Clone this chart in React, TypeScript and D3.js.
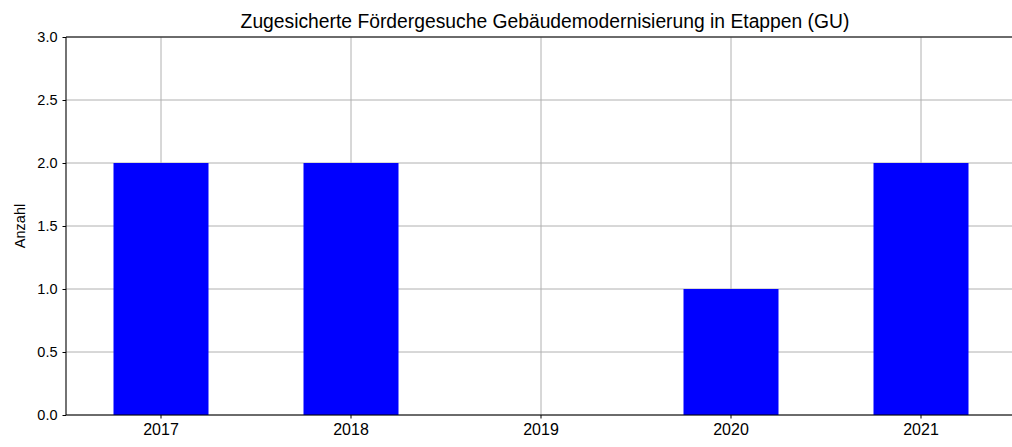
import { useRef, useEffect } from 'react';
import * as d3 from 'd3';

const YEARS = ['2017', '2018', '2019', '2020', '2021'];
const COUNTS = [2, 2, 0, 1, 2];
const Y_TICKS = [0, 0.5, 1, 1.5, 2, 2.5, 3];
const TITLE = 'Zugesicherte Fördergesuche Gebäudemodernisierung in Etappen (GU)';
const Y_LABEL = 'Anzahl';

const W = 1012;
const H = 447;
const FONT = '"Liberation Sans", Arial, sans-serif';

export default function App() {
  const ref = useRef<SVGSVGElement>(null);

  useEffect(() => {
    const svg = d3.select(ref.current);
    svg.selectAll('*').remove();

    // axes run off the right edge of the picture (cropped figure)
    const m = { top: 37, right: -4, bottom: 32, left: 66 };
    const x = d3.scaleBand().domain(YEARS).range([m.left, W - m.right]).paddingInner(0.5).paddingOuter(0.25);
    const y = d3.scaleLinear().domain([0, 3]).range([H - m.bottom, m.top]);
    const gridC = '#b0b0b0';

    // grid
    const grid = svg.append('g');
    grid.selectAll('line.h').data(Y_TICKS).join('line')
      .attr('x1', m.left).attr('x2', W - m.right)
      .attr('y1', d => y(d)).attr('y2', d => y(d))
      .attr('stroke', gridC).attr('stroke-width', 1);
    grid.selectAll('line.v').data(YEARS).join('line')
      .attr('x1', d => x(d)! + x.bandwidth() / 2).attr('x2', d => x(d)! + x.bandwidth() / 2)
      .attr('y1', m.top).attr('y2', H - m.bottom)
      .attr('stroke', gridC).attr('stroke-width', 1);

    // bars
    svg.append('g').selectAll('rect').data(YEARS).join('rect')
      .attr('x', d => x(d)!)
      .attr('width', x.bandwidth())
      .attr('y', (d, i) => y(COUNTS[i]))
      .attr('height', (d, i) => y(0) - y(COUNTS[i]))
      .attr('fill', '#0000ff');

    // axes
    svg.append('g').attr('transform', `translate(0,${H - m.bottom})`)
      .call(d3.axisBottom(x).tickSize(3.5).tickPadding(5))
      .call(s => s.select('.domain').remove())
      .call(s => s.selectAll('text').style('font-family', FONT).style('font-size', '16px').attr('fill', '#000'))
      .call(s => s.selectAll('line').attr('stroke', '#000'));
    svg.append('g').attr('transform', `translate(${m.left},0)`)
      .call(d3.axisLeft(y).tickValues(Y_TICKS).tickFormat(d3.format('.1f')).tickSize(3.5).tickPadding(5))
      .call(s => s.select('.domain').remove())
      .call(s => s.selectAll('text').style('font-family', FONT).style('font-size', '14.5px').attr('fill', '#000'))
      .call(s => s.selectAll('line').attr('stroke', '#000'));

    // spines
    const sp = svg.append('g').attr('stroke', '#000').attr('stroke-width', 1.1);
    sp.append('line').attr('x1', m.left).attr('x2', m.left).attr('y1', m.top).attr('y2', H - m.bottom);
    sp.append('line').attr('x1', m.left).attr('x2', W - m.right).attr('y1', H - m.bottom).attr('y2', H - m.bottom);
    sp.append('line').attr('x1', m.left).attr('x2', W - m.right).attr('y1', m.top).attr('y2', m.top);

    svg.append('text')
      .attr('x', 545).attr('y', 28)
      .attr('text-anchor', 'middle')
      .style('font-family', FONT).style('font-size', '19.3px')
      .text(TITLE);

    svg.append('text')
      .attr('transform', `translate(25,${(m.top + H - m.bottom) / 2}) rotate(-90)`)
      .attr('text-anchor', 'middle')
      .style('font-family', FONT).style('font-size', '14.5px')
      .text(Y_LABEL);
  }, []);

  return (
    <svg ref={ref} width={W} height={H}
      style={{ position: 'absolute', left: 0, top: 0, background: '#fff' }} />
  );
}
